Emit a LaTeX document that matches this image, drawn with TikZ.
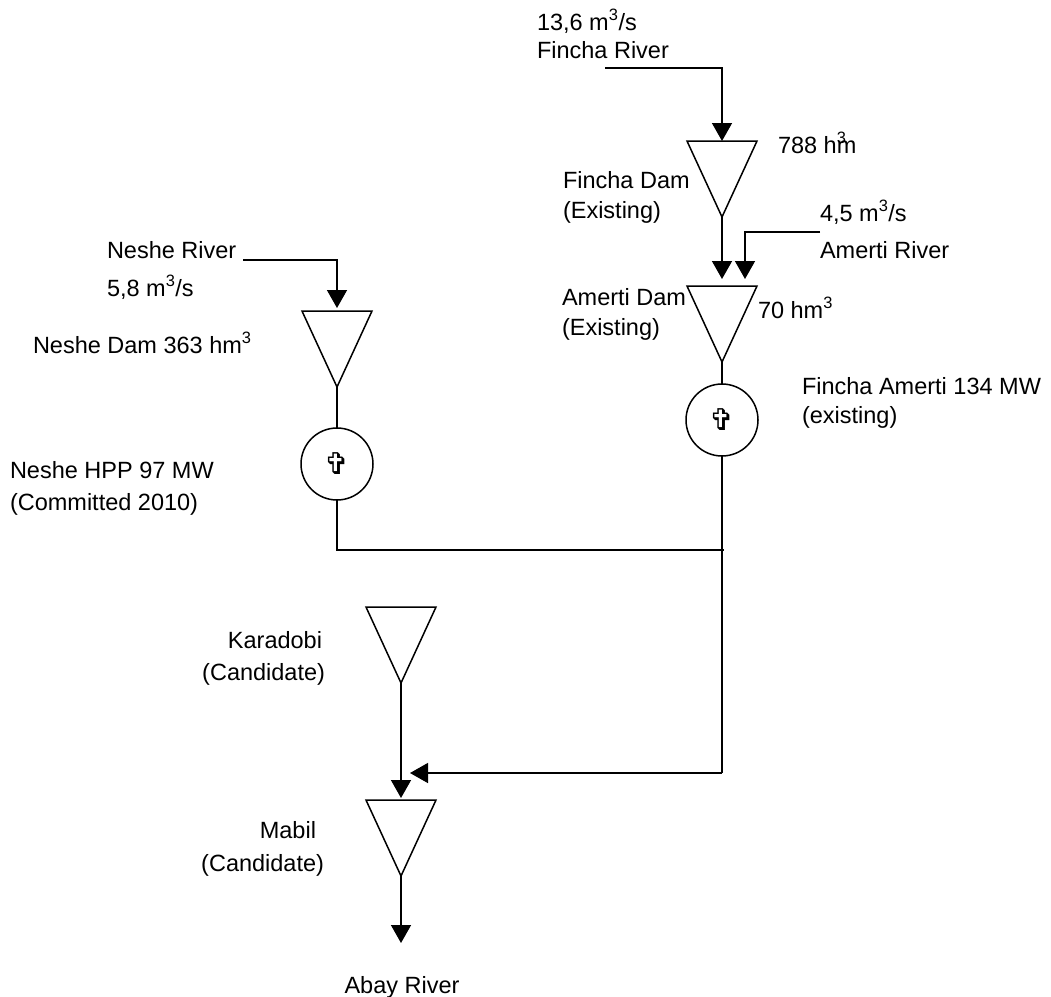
\documentclass[tikz,border=0pt]{standalone}
\usepackage{fontspec}
\setmainfont{Liberation Sans}
\newfontfamily\symfont{DejaVu Sans}
\usetikzlibrary{arrows.meta,shapes.geometric}

\begin{document}
\begin{tikzpicture}[x=1pt,y=-1pt,line width=1.5pt,
  every node/.style={font=\fontsize{23.5}{28}\selectfont, inner sep=0pt, outer sep=0pt},
  dam/.style={draw, isosceles triangle, isosceles triangle stretches, shape border rotate=270, minimum width=70, minimum height=76, anchor=lower side},
  plant/.style={draw, circle, minimum size=72},
  flow/.style={-{Triangle[length=18pt,width=20pt]}},
  lbl/.style={anchor=base west},
  lblr/.style={anchor=base east}]
\useasboundingbox (0,0) rectangle (1051,996);

% dams
\node[dam] (fdam) at (722,141) {};
\node[dam] (adam) at (722,286) {};
\node[dam] (ndam) at (337,311) {};
\node[dam] (kdam) at (401,607) {};
\node[dam] (mdam) at (401,800) {};

% power plants
\node[plant] (fgen) at (722,420) {\symfont\fontsize{30}{30}\selectfont ✞};
\node[plant] (ngen) at (337,464) {\symfont\fontsize{30}{30}\selectfont ✞};

% river ends
\coordinate (finchain) at (605,68);
\coordinate (amertiin) at (820,232);
\coordinate (nesheIn) at (243,260);
\coordinate (join) at (724,550);
\coordinate (turn) at (722,773);
\coordinate (abay) at (401,943);

\draw[flow] (finchain) -| (fdam.lower side);
\draw[flow, shorten >=7pt] (fdam.apex) -- (adam.lower side);
\draw[flow] (amertiin) -| ([xshift=23pt,yshift=7pt]adam.lower side);
\draw (adam.apex) -- (fgen);
\draw[flow, shorten >=3pt] (nesheIn) -| (ndam.lower side);
\draw (ndam.apex) -- (ngen);
\draw (ngen) |- (join);
\draw (fgen) -- (turn);
\draw[flow, shorten >=9pt] (turn) -- (turn -| mdam.lower side);
\draw[flow, shorten >=2pt] (kdam.apex) -- (mdam.lower side);
\draw[flow] (mdam.apex) -- (abay);

% labels
\node[lbl] (fincharate) at (537,30) {13,6 m\textsuperscript{3}/s};
\node[lbl] (finchariver) at (537,58) {Fincha River};
\node[lbl] (fvol) at (778,153) {788 h\rlap{\textsuperscript{3}}m};
\node[lbl] (fname) at (563,188) {Fincha Dam};
\node[lbl] (fstat) at (563,218) {(Existing)};
\node[lbl] (amertirate) at (820,221) {4,5 m\textsuperscript{3}/s};
\node[lbl] (amertiriver) at (820,258) {Amerti River};
\node[lbl] (aname) at (562,305) {Amerti Dam};
\node[lbl] (astat) at (562,335) {(Existing)};
\node[lbl] (avol) at (758,318) {70 hm\textsuperscript{3}};
\node[lbl] (nesheriver) at (107,258) {Neshe River};
\node[lbl] (nesherate) at (107,296) {5,8 m\textsuperscript{3}/s};
\node[lbl] (nname) at (33,353) {Neshe Dam 363 hm\textsuperscript{3}};
\node[lbl] (fpname) at (802,394) {Fincha Amerti 134 MW};
\node[lbl] (fpstat) at (802,423) {(existing)};
\node[lbl] (npname) at (10,478) {Neshe HPP 97 MW};
\node[lbl] (npstat) at (10,510) {(Committed 2010)};
\node[lblr] (kname) at (322,648) {Karadobi};
\node[lblr] (kstat) at (325,680) {(Candidate)};
\node[lblr] (mname) at (316,838) {Mabil};
\node[lblr] (mstat) at (324,871) {(Candidate)};
\node[anchor=base] (abayname) at (402,993) {Abay River};
\end{tikzpicture}
\end{document}
